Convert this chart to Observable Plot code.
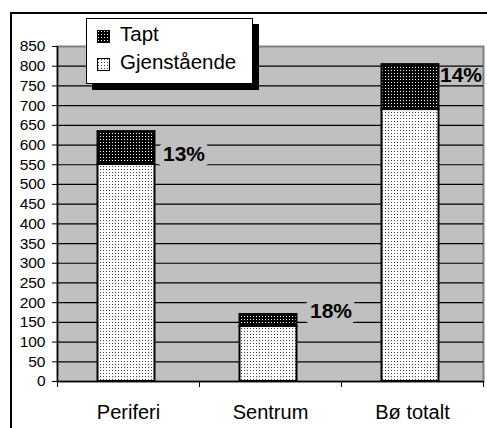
<!DOCTYPE html>
<html><head><meta charset="utf-8">
<script src="https://cdn.jsdelivr.net/npm/d3@7"></script>
<script src="https://cdn.jsdelivr.net/npm/@observablehq/plot@0.6"></script>
<style>
body{margin:0;background:#fff;overflow:hidden}
#wrap{position:relative;width:487px;height:428px;overflow:hidden;font-family:"Liberation Sans",Arial,sans-serif}
#border{position:absolute;left:10px;top:12px;width:600px;height:600px;border-left:2px solid #000;border-top:2px solid #000}
#chart{position:absolute;left:0;top:0}
#legend{position:absolute;left:86px;top:18px;width:165px;height:64px;background:#fff;border:1px solid #000;box-shadow:6px 6px 0 #000}
#legend .sw{position:absolute;left:10px;width:13px;height:13px}
#legend .tx{position:absolute;left:33px;font-size:20.5px;line-height:20px;white-space:nowrap;color:#000}
</style></head><body>
<div id="wrap"><div id="border"></div><div id="chart"></div><div id="legend"></div></div>
<script>
const categories = ["Periferi", "Sentrum", "Bø totalt"];
const remaining = [551, 140, 690];
const lost = [83, 30, 114];
const percentLabels = ["13%", "18%", "14%"];
const labelAt = [576, 178, 776];
const seriesNames = ["Tapt", "Gjenstående"];
const yTicks = d3.range(0, 851, 50);

const W = 487, H = 428, mL = 57, mR = 4, mT = 46, mB = 47;
const step = (W - mL - mR) / categories.length;
const insetL = 40.5, insetR = 44.5;
const font = '"Liberation Sans", Arial, sans-serif';

const rows = categories.flatMap((c, i) => [
  {cat: c, series: "Gjenstående", value: remaining[i]},
  {cat: c, series: "Tapt", value: lost[i]}
]);
const labels = categories.map((c, i) => ({cat: c, y: labelAt[i], text: percentLabels[i]}));
const gaps = [8, 13, 1];
const halo = [true, true, false];

const plot = Plot.plot({
  width: W, height: H,
  marginLeft: mL, marginRight: mR, marginTop: mT, marginBottom: mB,
  style: {fontFamily: font, background: "transparent", color: "#000", overflow: "visible"},
  x: {domain: categories, padding: 0, label: null},
  y: {domain: [0, 850], label: null},
  color: {domain: seriesNames, range: ["url(#pTapt)", "url(#pGjen)"]},
  marks: [
    Plot.frame({fill: "#c0c0c0", stroke: "#808080", strokeWidth: 2}),
    Plot.ruleY(yTicks.filter(v => v > 0 && v < 850), {stroke: "#000", strokeWidth: 1.2}),
    Plot.barY(rows, {x: "cat", y: "value", fill: "series", stroke: "#000", strokeWidth: 2, insetLeft: insetL, insetRight: insetR}),
    Plot.ruleY([0], {stroke: "#000", strokeWidth: 1.5}),
    Plot.ruleX([categories[0]], {dx: -step / 2, stroke: "#000", strokeWidth: 1.5}),
    Plot.axisY({ticks: yTicks, tickSize: 5, tickPadding: 7, fontSize: 15.5, tickFormat: d => String(d), label: null}),
    Plot.axisX({tickSize: 0, tickPadding: 23, fontSize: 20, label: null}),
    Plot.axisX({ticks: categories, tickSize: 6, tickFormat: () => "", dx: -step / 2, label: null}),
    Plot.axisX({ticks: [categories[categories.length - 1]], tickSize: 6, tickFormat: () => "", dx: step / 2, label: null}),
    ...labels.map((d, i) => Plot.text([d], {
      x: "cat", y: "y", text: "text", textAnchor: "start",
      dx: step / 2 - insetR + gaps[i], fontSize: 21, fontWeight: "bold", fill: "#000",
      stroke: halo[i] ? "#c0c0c0" : "none", strokeWidth: 12, strokeLinejoin: "round", paintOrder: "stroke"
    }))
  ]
});

d3.select(plot).insert("defs", ":first-child").html(`
<pattern id="pGjen" width="3" height="3" patternUnits="userSpaceOnUse">
  <rect width="3" height="3" fill="#fff"/><rect x="1" y="1" width="1" height="1" fill="#444"/>
</pattern>
<pattern id="pTapt" width="3" height="3" patternUnits="userSpaceOnUse">
  <rect width="3" height="3" fill="#000"/><rect x="1" y="1" width="1" height="1" fill="#fff"/>
</pattern>`);

document.getElementById("chart").appendChild(plot);

const legend = document.getElementById("legend");
const swTops = [10, 38], txTops = [5, 33];
seriesNames.forEach((s, i) => {
  const pat = i === 0 ? "pTapt" : "pGjen";
  const sw = document.createElement("div");
  sw.className = "sw";
  sw.style.top = swTops[i] + "px";
  sw.innerHTML = `<svg width="13" height="13"><rect x="0.5" y="0.5" width="12" height="12" fill="url(#${pat})" stroke="#000"/></svg>`;
  legend.appendChild(sw);
  const tx = document.createElement("div");
  tx.className = "tx";
  tx.style.top = txTops[i] + "px";
  tx.textContent = s;
  legend.appendChild(tx);
});
</script>
</body></html>
